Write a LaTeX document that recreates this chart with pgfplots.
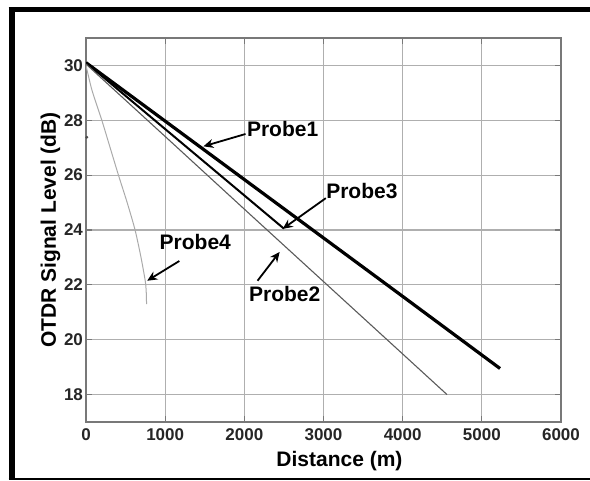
\documentclass[border=0pt]{standalone}
\usepackage{pgfplots}
\pgfplotsset{compat=1.18}
\usepackage{fontspec}
\setmainfont{Liberation Sans}
\usetikzlibrary{arrows.meta}

\definecolor{gridgray}{RGB}{175,175,175}
\definecolor{framegray}{RGB}{120,120,120}
\definecolor{probetwo}{RGB}{90,90,90}
\definecolor{probefour}{RGB}{170,170,170}

\begin{document}
\begin{tikzpicture}
% page = 590x481 px at 0.5pt per px
\useasboundingbox (0,0) rectangle (295pt,240.5pt);
\draw[line width=3pt] (5.75pt,1pt) -- (5.75pt,236.8pt);
\draw[line width=2.5pt] (4.25pt,235.75pt) -- (295pt,235.75pt);
\draw[line width=1pt] (4.25pt,1pt) -- (295pt,1pt);

\begin{axis}[
    at={(43pt,29.5pt)}, anchor=south west,
    width=237.5pt, height=192pt, scale only axis,
    xmin=0, xmax=6000, ymin=17, ymax=31,
    xtick={0,1000,...,6000}, ytick={18,20,...,30},
    grid=major,
    major grid style={gridgray, line width=0.6pt},
    axis line style={framegray, line width=0.7pt},
    tick style={framegray, line width=0.6pt},
    tick align=inside, major tick length=3pt,
    scaled x ticks=false,
    /pgf/number format/assume math mode=true,
    /pgf/number format/1000 sep={},
    ticklabel style={font=\fontsize{8.5}{10}\selectfont\bfseries, text=black!85},
    yticklabel style={xshift=2pt},
    xlabel={Distance (m)},
    ylabel={OTDR Signal Level (dB)},
    label style={font=\fontsize{10.5}{12}\selectfont\bfseries},
    xlabel style={yshift=2pt, xshift=8pt},
    ylabel style={yshift=-5pt},
]
% Probe1
\addplot[black, line width=1.6pt] coordinates {(0,30.1) (1000,27.97) (2000,25.84) (3000,23.71) (4000,21.58) (5230,18.95)};
% Probe3
\addplot[black, line width=1pt] coordinates {(0,30.1) (1000,27.68) (2000,25.26) (2500,24.05)};
% Probe2
\addplot[probetwo, line width=0.55pt] coordinates {(0,30.05) (1000,27.41) (2000,24.76) (3000,22.12) (4000,19.48) (4560,18.0)};
% Probe4
\addplot[probefour, line width=0.5pt, smooth, tension=0.4] coordinates {(0,30.0) (75,29.1) (200,28.0) (305,27.0) (410,26.0) (520,25.0) (620,24.0) (695,23.0) (748,22.15) (760,21.8) (765,21.3)};
% stray point
\addplot[only marks, mark=*, mark size=0.5pt, black!70] coordinates {(10,27.38)};

% labels and arrows
\tikzset{lbl/.style={font=\fontsize{10.5}{12}\selectfont\bfseries}, arr/.style={-{Stealth[length=5pt,width=4.5pt]}, line width=0.9pt}}
\node[lbl] at (axis cs:2484,27.67) {Probe1};
\draw[arr] (axis cs:2015,27.5) -- (axis cs:1483,27.05);
\node[lbl] at (axis cs:3485,25.42) {Probe3};
\draw[arr] (axis cs:3029,25.16) -- (axis cs:2484,24.04);
\node[lbl] at (axis cs:1381,23.56) {Probe4};
\draw[arr] (axis cs:1179,22.87) -- (axis cs:773,22.15);
\node[lbl] at (axis cs:2510,21.67) {Probe2};
\draw[arr] (axis cs:2167,22.15) -- (axis cs:2446,23.2);
\end{axis}
\end{tikzpicture}
\end{document}
